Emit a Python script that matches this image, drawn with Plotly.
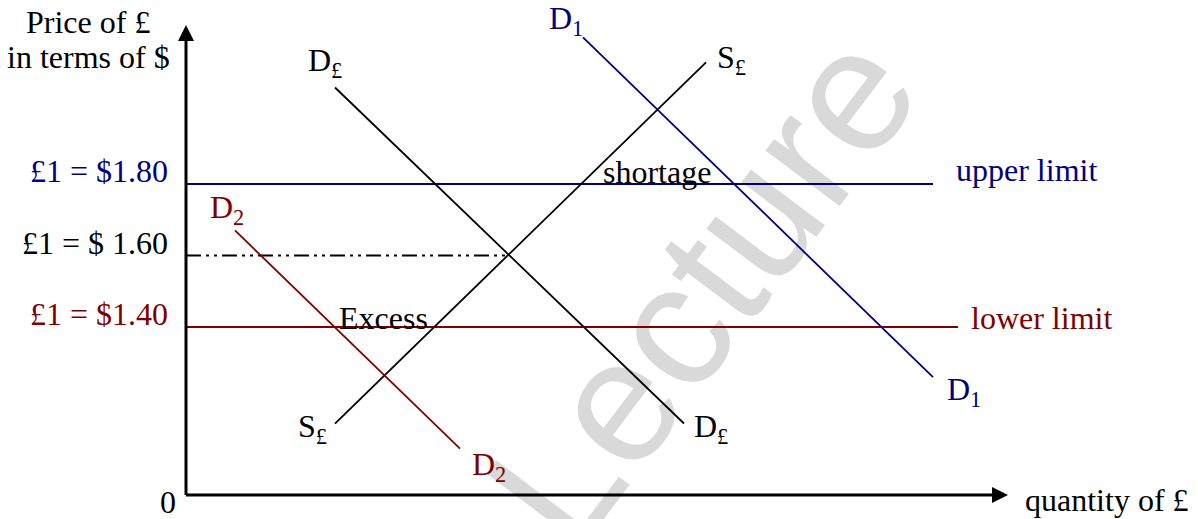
import plotly.graph_objects as go

# ---------------- data (quantity of £ in arbitrary units, price of £ in $) ----------------
price_levels = [1.80, 1.60, 1.40]
price_labels = ["£1 = $1.80", "£1 = $ 1.60", "£1 = $1.40"]

supply_q = [14.9, 52.0]      # S£
supply_p = [1.13, 2.14]

demand_q = [14.9, 49.8]      # D£
demand_p = [2.07, 1.13]

d1_q = [39.7, 74.7]          # D1 (higher demand)
d1_p = [2.21, 1.26]

d2_q = [4.9, 27.4]           # D2 (lower demand)
d2_p = [1.67, 1.06]

upper_q = [0, 74.7]          # upper limit £1 = $1.80
lower_q = [0, 77.2]          # lower limit £1 = $1.40
equil_q = [0, 32.2]          # equilibrium £1 = $1.60

axis_origin_p = 0.93
y_axis_top_p = 2.245
x_axis_end_q = 82.2

X_RANGE = [-18.6, 101.2]
Y_RANGE = [0.8629, 2.3147]

NAVY = "#000080"
MAROON = "#800000"
BLACK = "#000000"
SERIF = "Liberation Serif, Times New Roman, serif"
FS = 32

fig = go.Figure()


def line(q, p, color, width=1.8, dash=None):
    fig.add_trace(go.Scatter(x=q, y=p, mode="lines", hoverinfo="skip",
                             line=dict(color=color, width=width, dash=dash)))


# horizontal price lines
line(upper_q, [price_levels[0]] * 2, NAVY, 2)
line(lower_q, [price_levels[2]] * 2, MAROON, 2)
line(equil_q, [price_levels[1]] * 2, BLACK, 2, "15px,5px,3px,5px,3px,5px")

# curves
line(supply_q, supply_p, BLACK)
line(demand_q, demand_p, BLACK)
line(d1_q, d1_p, NAVY)
line(d2_q, d2_p, MAROON)

# axes
line([0, 0], [axis_origin_p, y_axis_top_p - 0.02], BLACK, 3)
line([0, x_axis_end_q - 0.5], [axis_origin_p, axis_origin_p], BLACK, 3)
fig.add_trace(go.Scatter(x=[0], y=[y_axis_top_p], mode="markers", hoverinfo="skip",
                         marker=dict(symbol="arrow-up", size=16, color=BLACK,
                                     line=dict(width=0))))
fig.add_trace(go.Scatter(x=[x_axis_end_q], y=[axis_origin_p], mode="markers", hoverinfo="skip",
                         marker=dict(symbol="arrow-right", size=16, color=BLACK,
                                     line=dict(width=0))))

ann = []


def label(x, y, text, color=BLACK, xshift=0, yshift=0, xanchor="center", size=FS):
    ann.append(dict(x=x, y=y, xref="x", yref="y", text=text, showarrow=False,
                    xanchor=xanchor, yanchor="middle", xshift=xshift, yshift=yshift,
                    font=dict(family=SERIF, size=size, color=color)))


# curve end labels
label(demand_q[0], demand_p[0], "D<sub>£</sub>", BLACK, -10, 25)
label(demand_q[1], demand_p[1], "D<sub>£</sub>", BLACK, 27, -5)
label(supply_q[0], supply_p[0], "S<sub>£</sub>", BLACK, -23, -5)
label(supply_q[1], supply_p[1], "S<sub>£</sub>", BLACK, 25, 3)
label(d1_q[0], d1_p[0], "D<sub>1</sub>", NAVY, -17, 17)
label(d1_q[1], d1_p[1], "D<sub>1</sub>", NAVY, 31, -14)
label(d2_q[0], d2_p[0], "D<sub>2</sub>", MAROON, -8, 21)
label(d2_q[1], d2_p[1], "D<sub>2</sub>", MAROON, 29, -18)

# price labels on the y axis
for lvl, txt, col in zip(price_levels, price_labels, [NAVY, BLACK, MAROON]):
    label(0, lvl, txt, col, -16, 13, "right")

label(upper_q[1], price_levels[0], "upper limit", NAVY, 21, 14, "left")
label(lower_q[1], price_levels[2], "lower limit", MAROON, 11, 9, "left")
label(47.1, price_levels[0], "shortage", BLACK, 0, 12)
label(19.7, price_levels[2], "Excess", BLACK, 0, 9)

# axis titles
label(0, axis_origin_p, "0", BLACK, -18, -7)
label(x_axis_end_q, axis_origin_p, "quantity of £", BLACK, 15, -5, "left")
label(0, y_axis_top_p, "Price of £", BLACK, -98, 3)
label(0, y_axis_top_p, "in terms of $", BLACK, -98, -32)

fig.update_layout(
    width=1198, height=519,
    margin=dict(l=0, r=0, t=0, b=0),
    paper_bgcolor="white", plot_bgcolor="white",
    showlegend=False,
    xaxis=dict(range=X_RANGE, visible=False, fixedrange=True),
    yaxis=dict(range=Y_RANGE, visible=False, fixedrange=True),
    annotations=ann,
    shapes=[dict(type="rect", xref="paper", yref="paper",
                 x0=0.557, x1=0.592, y0=0.452, y1=0.477,
                 line=dict(width=0), fillcolor="rgba(0,0,0,0)", layer="below",
                 label=dict(text="Lecture", textposition="middle center", textangle=-53,
                            font=dict(family="Liberation Sans, Arial, sans-serif",
                                      size=175, color="#d9d9d9")))],
)

fig.write_html("out.html", post_script="document.body.style.margin='0';",
               config={"displayModeBar": False})
